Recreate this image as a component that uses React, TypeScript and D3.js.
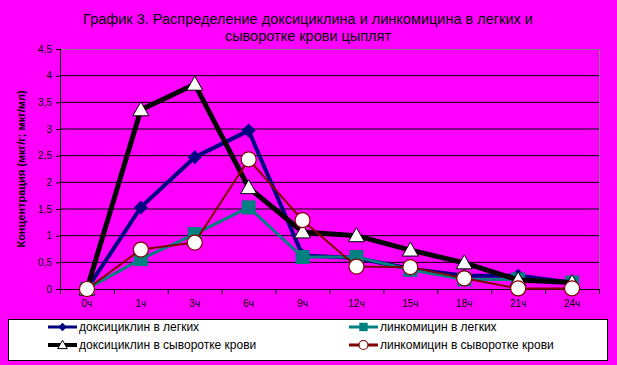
import React from "react";
import * as d3 from "d3";

const hours = ["0ч", "1ч", "3ч", "6ч", "9ч", "12ч", "15ч", "18ч", "21ч", "24ч"];
const doxyLungs = [0, 1.53, 2.47, 2.97, 0.63, 0.58, 0.38, 0.25, 0.25, 0.12];
const lincoLungs = [0, 0.56, 1.03, 1.53, 0.6, 0.6, 0.36, 0.18, 0.18, 0.12];
const doxySerum = [0, 3.36, 3.84, 1.9, 1.07, 1.0, 0.73, 0.49, 0.17, 0.12];
const lincoSerum = [0, 0.74, 0.87, 2.43, 1.29, 0.42, 0.41, 0.2, 0.01, 0.01];
const yTicks = [0, 0.5, 1, 1.5, 2, 2.5, 3, 3.5, 4, 4.5];

const W = 617,
  H = 365;
const plot = { left: 60, right: 599, top: 49, bottom: 289 };
const font = "Arial, 'Liberation Sans', sans-serif";

type Marker = "diamond" | "square" | "triangle" | "circle";
interface ISeries {
  name: string;
  values: number[];
  color: string;
  width: number;
  marker: Marker;
}

const series: ISeries[] = [
  { name: "доксициклин в легких", values: doxyLungs, color: "#000080", width: 4, marker: "diamond" },
  { name: "линкомицин в легких", values: lincoLungs, color: "#008080", width: 3, marker: "square" },
  { name: "доксициклин в сыворотке крови", values: doxySerum, color: "#000000", width: 5, marker: "triangle" },
  { name: "линкомицин в сыворотке крови", values: lincoSerum, color: "#800000", width: 2, marker: "circle" },
];

function MarkerShape(props: { type: Marker; x: number; y: number; color: string; scale?: number }) {
  const { type, x, y, color } = props;
  const s = props.scale ?? 1;
  if (type === "diamond") {
    const r = 7 * s;
    return <path d={`M${x},${y - r}L${x + r},${y}L${x},${y + r}L${x - r},${y}Z`} fill={color} />;
  }
  if (type === "square") {
    const r = 7 * s;
    return <rect x={x - r} y={y - r} width={2 * r} height={2 * r} fill={color} />;
  }
  if (type === "triangle") {
    const r = 8 * s;
    return (
      <path
        d={`M${x},${y - r}L${x + r},${y + r * 0.75}L${x - r},${y + r * 0.75}Z`}
        fill="#fff"
        stroke="#000"
        strokeWidth={1}
      />
    );
  }
  return <circle cx={x} cy={y} r={7.5 * s} fill="#fff" stroke={color} strokeWidth={1.2} />;
}

export default function App(): JSX.Element {
  const x = d3.scaleBand<string>().domain(hours).range([plot.left, plot.right]);
  const cx = (h: string) => (x(h) as number) + x.bandwidth() / 2;
  const y = d3.scaleLinear().domain([0, 4.5]).range([plot.bottom, plot.top]);
  const line = d3
    .line<number>()
    .x((_, i) => cx(hours[i]))
    .y((d) => y(d));

  const xTickPos = hours.map((h) => x(h) as number).concat([plot.right]);

  return (
    <svg width={W} height={H} style={{ position: "absolute", left: 0, top: 0, display: "block" }}>
      <rect width={W} height={H} fill="#ff00ff" />
      <text x={308} y={24} textAnchor="middle" fontFamily={font} fontSize={14.5} fill="#000">
        График 3. Распределение доксициклина и линкомицина в легких и
      </text>
      <text x={308} y={41} textAnchor="middle" fontFamily={font} fontSize={14.5} fill="#000">
        сыворотке крови цыплят
      </text>

      {/* grid */}
      {yTicks.slice(1, -1).map((t) => (
        <line key={t} x1={plot.left} x2={plot.right} y1={y(t)} y2={y(t)} stroke="#000" strokeWidth={1} />
      ))}
      <line x1={plot.left} x2={plot.right} y1={plot.top + 0.5} y2={plot.top + 0.5} stroke="#808080" />
      <line x1={plot.right + 0.5} x2={plot.right + 0.5} y1={plot.top} y2={plot.bottom} stroke="#808080" />

      {/* axes */}
      <line x1={plot.left + 0.5} x2={plot.left + 0.5} y1={plot.top} y2={plot.bottom + 1} stroke="#000" />
      <line x1={plot.left} x2={plot.right + 1} y1={plot.bottom + 0.5} y2={plot.bottom + 0.5} stroke="#000" />
      {yTicks.map((t) => (
        <g key={t}>
          <line x1={plot.left - 4} x2={plot.left} y1={y(t) + 0.5} y2={y(t) + 0.5} stroke="#000" />
          <text
            x={plot.left - 8}
            y={y(t) + 3.5}
            textAnchor="end"
            fontFamily={font}
            fontSize={10}
            fill="#000"
          >
            {String(t).replace(".", ",")}
          </text>
        </g>
      ))}
      {xTickPos.map((p, i) => (
        <line key={i} x1={p + 0.5} x2={p + 0.5} y1={plot.bottom} y2={plot.bottom + 5} stroke="#000" />
      ))}
      {hours.map((h) => (
        <text key={h} x={cx(h)} y={307} textAnchor="middle" fontFamily={font} fontSize={10} fill="#000">
          {h}
        </text>
      ))}
      <text
        transform={`translate(25,${(plot.top + plot.bottom) / 2}) rotate(-90)`}
        textAnchor="middle"
        fontFamily={font}
        fontSize={11}
        fontWeight="bold"
        fill="#000"
      >
        Концентрация (мкг/г; мкг/мл)
      </text>

      {/* series */}
      {series.map((s) => (
        <g key={s.name}>
          <path d={line(s.values) || ""} fill="none" stroke={s.color} strokeWidth={s.width} strokeLinejoin="miter" />
          {s.values.map((v, i) => (
            <MarkerShape key={i} type={s.marker} x={cx(hours[i])} y={y(v)} color={s.color} />
          ))}
        </g>
      ))}

      {/* legend */}
      <rect x={8.5} y={319.5} width={599} height={41} fill="#fff" stroke="#000" strokeWidth={1} />
      {series.map((s, i) => {
        const lx = i % 2 === 0 ? 48 : 349;
        const ly = i < 2 ? 327 : 345;
        return (
          <g key={s.name}>
            <line x1={lx} x2={lx + 29} y1={ly} y2={ly} stroke={s.color} strokeWidth={Math.max(3, s.width - 1)} />
            <MarkerShape type={s.marker} x={lx + 14.5} y={ly} color={s.color} scale={0.6} />
            <text x={lx + 31} y={ly + 4} fontFamily={font} fontSize={12} fill="#000">
              {s.name}
            </text>
          </g>
        );
      })}
    </svg>
  );
}
